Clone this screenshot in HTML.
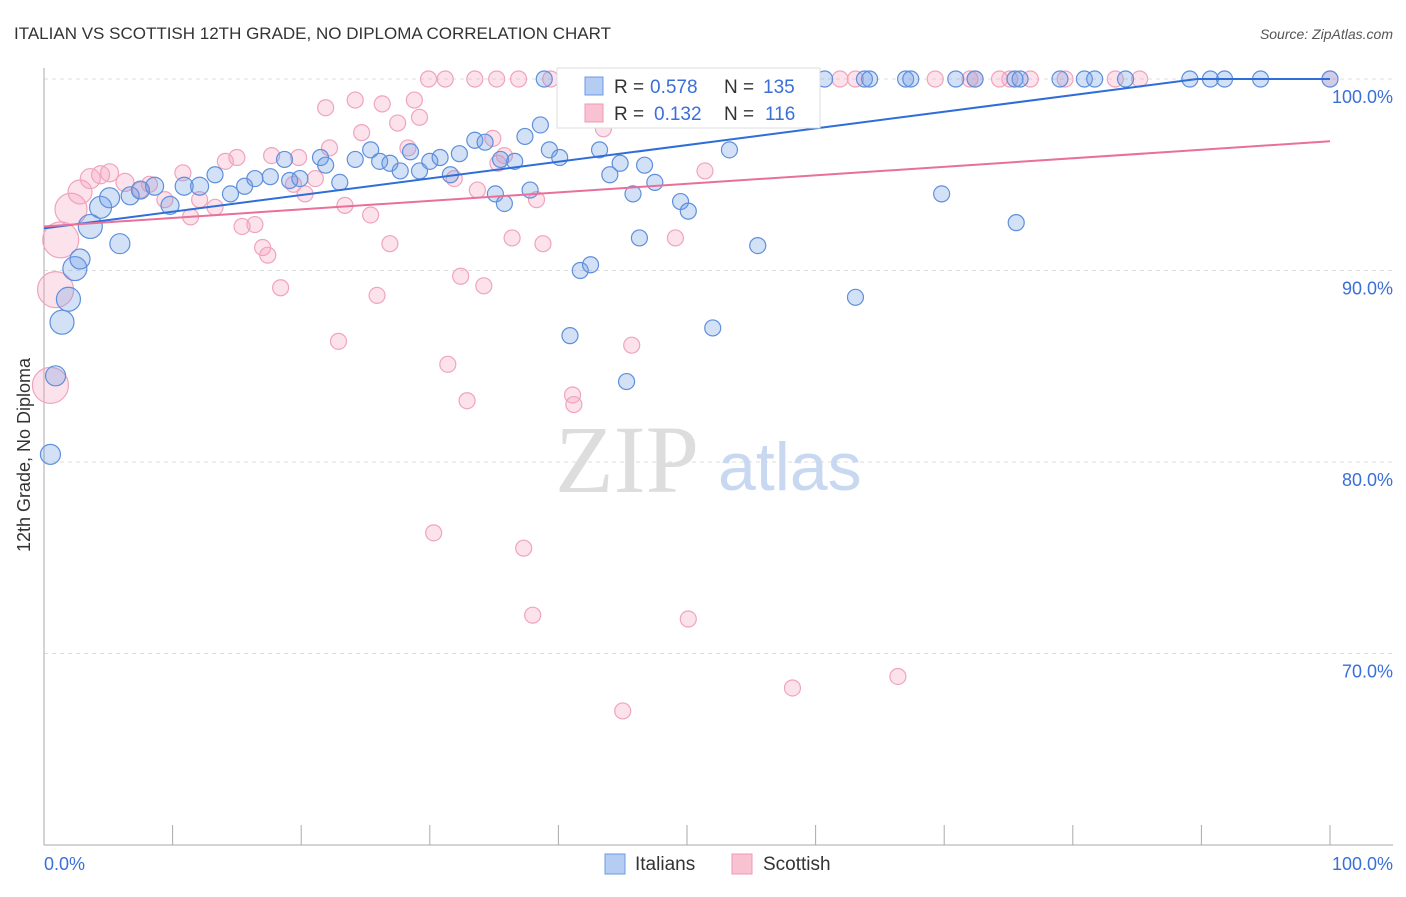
<!DOCTYPE html>
<html><head><meta charset="utf-8"><style>
body{margin:0;background:#fff;font-family:"Liberation Sans",sans-serif;}
</style></head><body>
<svg id="chart" width="1406" height="892" xmlns="http://www.w3.org/2000/svg" font-family="Liberation Sans, sans-serif">
<text x="14" y="39" font-size="17" fill="#333">ITALIAN VS SCOTTISH 12TH GRADE, NO DIPLOMA CORRELATION CHART</text>
<text x="1393" y="39" font-size="14" fill="#555" text-anchor="end" font-style="italic">Source: ZipAtlas.com</text>
<g id="grid"></g>
<text x="555" y="492" font-size="96" fill="#ddd" font-family="Liberation Serif, serif">ZIP</text>
<text x="718" y="490" font-size="68" fill="#c8d8f0">atlas</text>
<g id="pts"></g>
<g id="lines"></g>
<text x="30" y="455" font-size="18" fill="#333" text-anchor="middle" transform="rotate(-90 30 455)">12th Grade, No Diploma</text>
<g>
<rect x="557" y="68" width="263" height="60" fill="#fff" stroke="#ddd"/>
<rect x="585" y="77" width="18" height="18" fill="#b5cdf2" stroke="#6b9be0"/>
<text x="614" y="93" font-size="19" fill="#333">R =</text>
<text x="650" y="93" font-size="19" fill="#3a6fd8">0.578</text>
<text x="724" y="93" font-size="19" fill="#333">N =</text>
<text x="763" y="93" font-size="19" fill="#3a6fd8">135</text>
<rect x="585" y="104" width="18" height="18" fill="#f8c2d2" stroke="#ee9ab5"/>
<text x="614" y="120" font-size="19" fill="#333">R =</text>
<text x="654" y="120" font-size="19" fill="#3a6fd8">0.132</text>
<text x="724" y="120" font-size="19" fill="#333">N =</text>
<text x="765" y="120" font-size="19" fill="#3a6fd8">116</text>
</g>
<g>
<rect x="605" y="854" width="20" height="20" fill="#b5cdf2" stroke="#6b9be0"/>
<text x="635" y="870" font-size="19" fill="#333">Italians</text>
<rect x="732" y="854" width="20" height="20" fill="#f8c2d2" stroke="#ee9ab5"/>
<text x="763" y="870" font-size="19" fill="#333">Scottish</text>
</g>
</svg>
<script>
const yTicks=[100,90,80,70];
const xTickCount=10;
const blueX=[0.5,0.9,1.4,1.9,2.4,2.8,3.6,4.4,5.1,5.9,6.7,7.5,8.6,9.8,10.9,12.1,13.3,14.5,15.6,16.4,17.6,18.7,19.1,19.9,21.5,21.9,23.0,24.2,25.4,26.1,26.9,27.7,28.5,29.2,30.0,30.8,31.6,32.3,33.5,34.3,35.1,35.5,35.8,36.6,37.4,37.8,38.6,39.3,40.1,40.9,41.7,42.5,43.2,44.0,44.8,45.3,45.8,46.3,46.7,47.5,49.5,50.1,52.0,53.3,55.5,63.1,69.8,75.6,38.9,44.0,46.3,51.0,54.9,58.8,60.7,63.8,64.2,67.0,67.4,70.9,72.4,75.5,75.9,79.0,80.9,81.7,84.1,89.1,90.7,91.8,94.6,100];
const blueY=[80.4,84.5,87.3,88.5,90.1,90.6,92.3,93.3,93.8,91.4,93.9,94.2,94.4,93.4,94.4,94.4,95.0,94.0,94.4,94.8,94.9,95.8,94.7,94.8,95.9,95.5,94.6,95.8,96.3,95.7,95.6,95.2,96.2,95.2,95.7,95.9,95.0,96.1,96.8,96.7,94.0,95.8,93.5,95.7,97.0,94.2,97.6,96.3,95.9,86.6,90.0,90.3,96.3,95.0,95.6,84.2,94.0,91.7,95.5,94.6,93.6,93.1,87.0,96.3,91.3,88.6,94.0,92.5,100,100,100,100,100,100,100,100,100,100,100,100,100,100,100,100,100,100,100,100,100,100,100,100];
const blueR=[10,10,12,12,12,10,12,11,10,10,9,9,9,9,9,9,8,8,8,8,8];
const pinkX=[0.5,0.9,1.3,2.1,2.8,3.6,4.4,5.1,6.3,7.5,8.2,9.4,10.8,11.4,12.1,13.3,14.1,15.0,15.4,16.4,17.0,17.4,17.7,18.4,19.4,19.8,20.3,21.1,21.9,22.2,22.9,23.4,24.2,24.7,25.4,25.9,26.3,26.9,27.5,28.3,28.8,29.2,30.3,31.4,31.9,32.4,32.9,33.7,34.2,34.9,35.3,35.8,36.4,37.3,38.0,38.3,38.8,41.1,41.2,43.5,44.2,45.0,45.7,49.1,50.1,51.4,58.2,66.4,29.9,31.2,33.5,35.2,36.9,39.4,41.7,45.2,47.9,50.2,51.0,52.6,54.1,56.5,58.8,61.9,63.1,69.3,72.0,72.4,74.3,75.1,76.7,79.4,83.3,85.2,100];
const pinkY=[84.0,89.0,91.6,93.2,94.1,94.8,95.0,95.1,94.6,94.2,94.5,93.7,95.1,92.8,93.7,93.3,95.7,95.9,92.3,92.4,91.2,90.8,96.0,89.1,94.5,95.9,94.0,94.8,98.5,96.4,86.3,93.4,98.9,97.2,92.9,88.7,98.7,91.4,97.7,96.4,98.9,98.0,76.3,85.1,94.8,89.7,83.2,94.2,89.2,96.9,95.6,96.0,91.7,75.5,72.0,93.7,91.4,83.5,83.0,97.4,98.4,67.0,86.1,91.7,71.8,95.2,68.2,68.8,100,100,100,100,100,100,100,100,100,100,100,100,100,100,100,100,100,100,100,100,100,100,100,100,100,100,100];
const pinkR=[18,18,18,16,12,10,9,9,9,8,8,8];
const blueLine=[92.2,100.9];
const pinkLine=[92.3,96.75];
const X=v=>44+v*12.86, Y=v=>79+(100-v)*19.15;
const NS="http://www.w3.org/2000/svg";
function mk(t,a,p){const e=document.createElementNS(NS,t);for(const k in a)e.setAttribute(k,a[k]);p.appendChild(e);return e;}
const grid=document.getElementById('grid');
yTicks.forEach(t=>{
 const l=mk('line',{x1:44,x2:1393,y1:Y(t),y2:Y(t),stroke:'#ddd','stroke-dasharray':'4,4'},grid);
 
 
 const tx=mk('text',{x:1393,y:Y(t)+24,'font-size':18,fill:'#3a6fd8','text-anchor':'end'},grid);
 tx.textContent=t.toFixed(1)+'%';
 
 
});
const ax=mk('line',{x1:44,x2:1393,y1:845,y2:845,stroke:'#aaa'},grid);


const ay=mk('line',{x1:44,x2:44,y1:68,y2:845,stroke:'#aaa'},grid);


for(let i=0;i<=xTickCount;i++){const t=mk('line',{x1:X(i*10),x2:X(i*10),y1:825,y2:845,stroke:'#aaa'},grid);
 
 }
const xl0=mk('text',{x:44,y:870,'font-size':18,fill:'#3a6fd8'},grid);xl0.textContent='0.0%';


const xl1=mk('text',{x:1393,y:870,'font-size':18,fill:'#3a6fd8','text-anchor':'end'},grid);xl1.textContent='100.0%';


const pts=document.getElementById('pts');
pinkX.forEach((x,i)=>{const c=mk('circle',{cx:X(x),cy:Y(pinkY[i]),r:pinkR[i]||8,fill:'rgba(244,160,190,0.3)',stroke:'#f0a4bc','stroke-width':1.2},pts);
 
 });
blueX.forEach((x,i)=>{const c=mk('circle',{cx:X(x),cy:Y(blueY[i]),r:blueR[i]||8,fill:'rgba(110,155,230,0.3)',stroke:'#5e8fdc','stroke-width':1.2},pts);
 
 });
const lines=document.getElementById('lines');
const bEnd=(100-blueLine[0])/(blueLine[1]-blueLine[0])*100;
const bl=mk('polyline',{points:`${X(0)},${Y(blueLine[0])} ${X(bEnd)},${Y(100)} ${X(100)},${Y(100)}`,fill:'none',stroke:'#2f6ed8','stroke-width':2},lines);


const pl=mk('line',{x1:X(0),y1:Y(pinkLine[0]),x2:X(100),y2:Y(pinkLine[1]),stroke:'#e8709a','stroke-width':2},lines);


</script>
</body></html>
